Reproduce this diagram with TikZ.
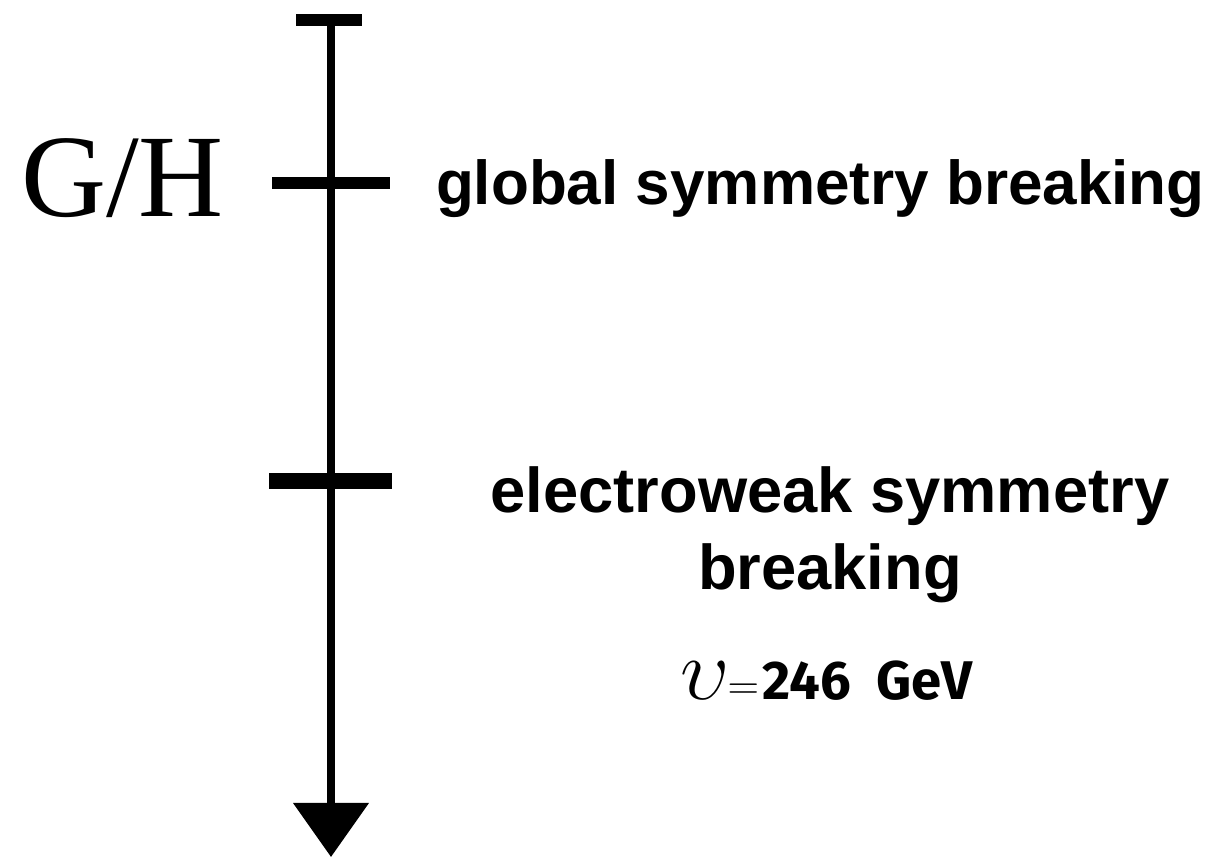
\documentclass[tikz,border=0pt]{standalone}
\usepackage{fontspec}
\setmainfont{Liberation Sans}
\newfontfamily\ghfont{Liberation Serif}
\newfontfamily\gevfont{Fira Sans}
\usetikzlibrary{arrows.meta}

\begin{document}
\begin{tikzpicture}[
  x=1cm,y=1cm,
  every node/.style={
    text=black,align=center,outer sep=0pt,inner sep=0pt
  },
  axisline/.style={
    -{Triangle[length=1.08cm,width=1.48cm]},
    draw=black,
    line width=4.5pt
  },
  scalemark/.style={
    draw=black,
    line width=7pt
  },
  ewbar/.style={
    draw=black,
    line width=9pt
  },
  phase/.style={
    font=\bfseries\fontsize{36}{44}\selectfont
  },
  vev/.style={
    font=\gevfont\bfseries\fontsize{31}{36}\selectfont
  }
]
\path[use as bounding box] (0,0) rectangle (24.6,17.18);

% Energy axis
\coordinate (top) at (6.62,16.78);
\coordinate (bottom) at (6.62,0.04);
\draw[axisline] (top) -- (bottom);

% Scale marks on the axis
\coordinate (gh) at (6.62,13.52);
\coordinate (ew) at (6.62,7.56);

\draw[scalemark] (5.92,16.78) -- (7.24,16.78);
\draw[scalemark] (5.44,13.52) -- (7.80,13.52);
\draw[ewbar] (5.38,7.56) -- (7.84,7.56);

% Coset label
\node[
  anchor=base east,
  font=\ghfont\fontsize{67}{70}\selectfont
] (coset) at (4.48,12.84) {G/H};

% Breaking stages
\node[
  phase,
  font=\bfseries\fontsize{35.3}{44}\selectfont,
  anchor=base west
] (global) at (8.72,13.08)
  {global symmetry breaking};

\node[phase,anchor=base] (electroweak) at (16.60,5.38)
  {electroweak symmetry\\breaking};

\node[vev,anchor=base] (scale) at (16.53,3.18)
  {\scalebox{2}{$\upsilon$}\kern-1pt$=$\kern2pt 246\ \ GeV};

\end{tikzpicture}
\end{document}
